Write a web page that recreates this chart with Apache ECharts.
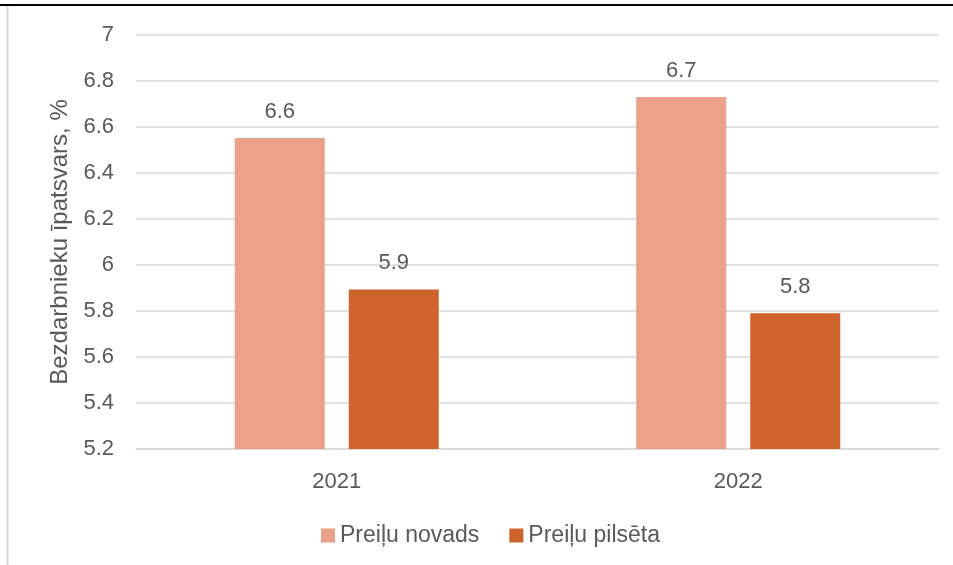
<!DOCTYPE html>
<html>
<head>
<meta charset="utf-8">
<script src="https://cdn.jsdelivr.net/npm/echarts@6/dist/echarts.min.js"></script>
<style>
  html, body { margin: 0; padding: 0; background: #ffffff; }
  #chart { width: 953px; height: 565px; }
</style>
</head>
<body>
<div id="chart"></div>
<script>
// Unemployment share by year, Preiļi municipality vs. Preiļi town
const years = ['2021', '2022'];
const seriesNames = ['Preiļu novads', 'Preiļu pilsēta'];
const novadsValues = [6.552, 6.73];
const pilsetaValues = [5.894, 5.79];
const yAxisTitle = 'Bezdarbnieku īpatsvars, %';

const textColor = '#595959';
const fontFamily = '"Liberation Sans", Arial, sans-serif';
const fs = 22;

const chart = echarts.init(document.getElementById('chart'), null, { renderer: 'canvas' });

const valueLabel = {
  show: true,
  position: 'top',
  distance: 15,
  color: textColor,
  fontSize: fs,
  fontFamily: fontFamily,
  formatter: p => p.value.toFixed(1)
};

chart.setOption({
  animation: false,
  backgroundColor: '#ffffff',
  textStyle: { fontFamily: fontFamily },
  graphic: [
    { type: 'line', shape: { x1: 0, y1: 5, x2: 953, y2: 5 }, style: { stroke: '#000000', lineWidth: 2 } },
    { type: 'line', shape: { x1: 7.5, y1: 6, x2: 7.5, y2: 565 }, style: { stroke: '#d9d9d9', lineWidth: 2 } }
  ],
  grid: { left: 136, right: 14, top: 35, bottom: 116, containLabel: false },
  legend: {
    data: seriesNames,
    top: 519,
    left: 316,
    itemWidth: 14,
    itemHeight: 14,
    itemGap: 30,
    icon: 'rect',
    textStyle: { color: textColor, fontSize: 23, fontFamily: fontFamily, padding: [0, 0, 0, 0] }
  },
  xAxis: {
    type: 'category',
    data: years,
    axisLine: { show: true, lineStyle: { color: '#d9d9d9', width: 1.5 } },
    axisTick: { show: false },
    axisLabel: { color: textColor, fontSize: fs, margin: 22, fontFamily: fontFamily }
  },
  yAxis: {
    type: 'value',
    min: 5.2,
    max: 7,
    interval: 0.2,
    name: yAxisTitle,
    nameLocation: 'middle',
    nameGap: 62,
    nameTextStyle: { color: textColor, fontSize: 24, fontFamily: fontFamily },
    axisLine: { show: false },
    axisTick: { show: false },
    axisLabel: {
      color: textColor,
      fontSize: fs,
      margin: 22,
      fontFamily: fontFamily,
      formatter: v => String(parseFloat(v.toFixed(1)))
    },
    splitLine: { lineStyle: { color: '#d9d9d9', width: 1.5 } }
  },
  series: [
    {
      name: seriesNames[0],
      type: 'bar',
      data: novadsValues,
      barWidth: 90,
      barGap: '26.7%',
      itemStyle: { color: '#EEA18A' },
      label: valueLabel
    },
    {
      name: seriesNames[1],
      type: 'bar',
      data: pilsetaValues,
      barWidth: 90,
      itemStyle: { color: '#CF632C' },
      label: valueLabel
    }
  ]
});
</script>
</body>
</html>
